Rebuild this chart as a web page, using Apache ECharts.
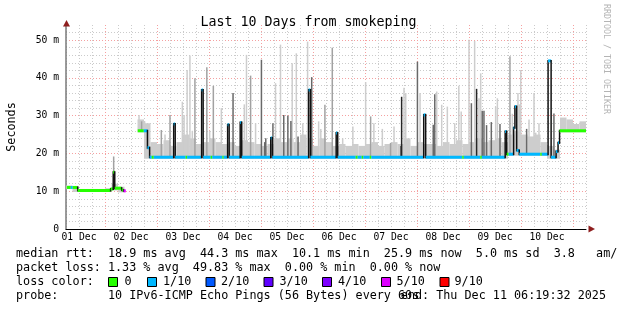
<!DOCTYPE html>
<html><head><meta charset="utf-8">
<script src="https://cdn.jsdelivr.net/npm/echarts@6/dist/echarts.min.js"></script>
<style>html,body{margin:0;padding:0;background:#fff}#c{width:617px;height:310px}</style>
</head><body><div id="c"></div>
<script>
// ---------- data ----------
const xTickLabels = ['01 Dec','02 Dec','03 Dec','04 Dec','05 Dec','06 Dec','07 Dec','08 Dec','09 Dec','10 Dec'];
const yTickLabels = ['0','10 m','20 m','30 m','40 m','50 m'];
const lossLevels = [0,1,2,3,4,5,9];
const lossNames  = ['0','1/10','2/10','3/10','4/10','5/10','9/10'];
const lossColors = ['#26ff00','#00b8ff','#0059ff','#5e00ff','#7e00ff','#dd00ff','#ff0000'];
const endHour = 246.33; // hours since 01 Dec 00:00

// median rtt steps (start hour, ms, loss in tenths); null = no data
const medHour = [6.33,8.2,9.1,11.4,26.6,27.8,28.5,31.7,32.6,33.6,39.1,41.9,43.6,44.6,45.6,46.5,55.7,56.4,61.2,61.9,
  68.6,69.3,72.8,73.5,78.2,78.8,80.6,81.3,86.4,87.1,100.5,101.2,118.0,118.8,130.7,131.4,139.7,140.6,142.5,143.2,
  146.2,146.9,171.1,172.0,188.9,189.6,197.2,197.9,208.7,209.4,210.3,212.6,213.2,214.0,215.2,224.9,225.6,228.5,229.9,232.2,
  233.1,233.8];
const medMs = [11.0,11.0,11.0,10.2,10.6,15.0,10.8,10.3,10.1,null,26.0,26.0,21.5,19.0,19.0,19.0,27.8,19.0,19.0,19.0,
  36.8,19.0,19.0,19.0,19.0,19.0,27.6,19.0,28.2,19.0,24.1,19.0,36.8,19.0,25.4,19.0,19.0,19.0,19.0,19.0,
  19.0,19.0,30.2,19.0,19.0,19.0,19.0,19.0,25.8,19.8,19.8,26.8,32.4,20.8,19.8,19.8,19.8,44.5,19.0,20.5,
  22.8,26.0];
const medLoss = [0,1,0,0,0,0,0,0,5,0,0,1,1,1,0,1,1,1,0,1,
  1,1,0,1,0,1,1,1,1,1,1,1,1,1,1,1,0,1,0,1,
  0,1,1,1,0,1,0,1,1,0,1,1,1,1,1,0,1,1,1,1,
  1,0];

// smoke band top per 3-hour bin starting 01 Dec 06:00
const bandStartHour = 6, bandStepHours = 3;
const bandTop = [11.5,11.3,10.6,10.6,10.6,10.6,10.8,12,11.2,null,null,29,28,23,22.5,23.5,22,23,25,24,
  22.5,23,24,23,22.5,23,22,23.5,23,22.5,22,22.5,24,23,24,23,25,24,22,24,
  23,22,22.5,22,22.5,22,22.5,23,22,22.5,23,22.5,24,22,23,22.5,22.5,22,23,22.5,
  23.5,22.5,23,24,23,23.5,24,23,25,26,25,24.5,25,23,22,21,29.5,29,27.8,28.5];

// individual smoke spikes (hour, top ms, shade 0 light .. 3 black)
const spikeHour = [28.0,39.7,40.9,42.3,50.0,51.7,54.0,59.7,60.5,61.9,63.2,64.3,65.5,71.0,72.3,74.0,77.7,83.1,88.3,89.3,
  91.2,93.5,96.2,97.7,98.2,101.5,102.7,105.0,106.5,108.4,109.8,110.4,112.3,113.1,115.3,117.5,119.4,122.6,123.6,125.5,
  128.9,133.7,138.4,144.3,146.6,148.1,152.0,155.8,157.4,160.5,160.9,162.0,162.8,168.2,169.4,175.5,176.2,177.1,179.4,182.0,
  185.4,187.3,188.4,192.0,193.1,194.6,195.5,196.6,197.4,198.1,198.9,200.1,202.3,204.3,205.1,206.3,210.9,212.0,214.6,215.2,
  215.9,218.6,219.7,222.0,222.8,224.3,231.2];
const spikeTop = [19.2,30.2,28.5,28.5,26.2,25,30.2,33.7,30.2,42.1,45.9,26.0,39.9,42.8,26.0,37.9,32.0,36.0,33,46.1,
  40.6,28,44.8,23,24.0,28.0,38.6,48.8,30.2,30.0,28.6,43.9,46.5,24.5,28.0,49.6,40.2,28.5,26.5,32.9,
  48.0,24,27.1,38.9,29.8,28.0,26.5,22.8,27.1,22,35.0,37.4,36.0,44.3,36.0,27.6,35.7,36.4,32.9,32.4,
  28.0,37.9,31.1,50.1,33.3,49.8,37.1,34.6,41.2,31.3,31.3,27.5,28.3,32.4,34.6,27.8,45.7,30.5,36.0,33,
  42.1,26.5,29,36.0,25.5,28,30.6];
const spikeShade = [1,0,1,0,1,0,1,0,0,0,0,0,1,1,0,1,0,2,0,0,
  1,0,2,2,2,2,0,0,2,2,2,0,0,2,0,0,2,0,0,1,
  1,0,0,0,1,0,0,1,0,2,3,0,0,2,0,2,2,0,0,0,
  0,0,0,0,2,0,3,0,0,2,2,2,2,0,0,2,1,0,0,0,
  0,2,0,0,0,0,2];
const shadeColors = ['#cdcdcd','#a2a2a2','#696969','#262626'];

const legendLines = [
  'median rtt:  18.9 ms avg  44.3 ms max  10.1 ms min  25.9 ms now  5.0 ms sd  3.8   am/s',
  'packet loss: 1.33 % avg  49.83 % max  0.00 % min  0.00 % now',
  'loss color:',
  'probe:       10 IPv6-ICMP Echo Pings (56 Bytes) every 60s'
];
const endText = 'end: Thu Dec 11 06:19:32 2025';
const titleText = 'Last 10 Days from smokeping';

// ---------- build ----------
const MONO = '"DejaVu Sans Mono", monospace';
const segs = [];
for (let i = 0; i < medHour.length; i++) {
  if (medMs[i] == null) continue;
  segs.push({h0: medHour[i], h1: i + 1 < medHour.length ? medHour[i + 1] : endHour,
    v: medMs[i], loss: medLoss[i], pv: i > 0 ? medMs[i - 1] : null});
}
function medianAt(h) {
  for (const s of segs) if (h >= s.h0 && h < s.h1) return s.v;
  return null;
}
function medianMin(a, b) {
  let m = null;
  for (const s of segs) if (s.h1 > a && s.h0 < b) m = m == null ? s.v : Math.min(m, s.v);
  return m;
}
function lossColor(l) { return lossColors[lossLevels.indexOf(l)]; }

const bandItems = [];
bandTop.forEach((t, i) => {
  if (t == null) return;
  const a = bandStartHour + i * bandStepHours, b = a + bandStepHours;
  const lo = medianMin(a, b);
  if (lo == null) return;
  bandItems.push([a, b, lo - 0.4, t]);
});
const spikeItems = spikeHour.map((h, i) => [h, medianAt(h), spikeTop[i], spikeShade[i]])
  .filter(d => d[1] != null).sort((p, q) => p[3] - q[3]);
const medItems = segs.map((s, i) => [s.h0, s.v, i]);

const chart = echarts.init(document.getElementById('c'), null, {renderer: 'canvas'});

const gridGray = '#cbcbcb', gridRed = '#f5a0a0';
const graphics = [];
legendLines.forEach((t, i) => {
  graphics.push({type: 'text', x: 16, y: 254 + i * 14, silent: true,
    style: {text: t, font: '11.75px ' + MONO, fill: '#000', textVerticalAlign: 'middle'}});
});
graphics.push({type: 'text', x: 606, y: 296, silent: true,
  style: {text: endText, font: '11.75px ' + MONO, fill: '#000', textAlign: 'right', textVerticalAlign: 'middle'}});
const boxX = [108, 147, 205.5, 263.5, 322, 381, 439.5];
const labX = [124.5, 163, 221, 279.5, 338, 396.5, 454.5];
lossNames.forEach((n, i) => {
  graphics.push({type: 'rect', silent: true, shape: {x: boxX[i] + 0.5, y: 277.5, width: 9, height: 9},
    style: {fill: lossColors[i], stroke: '#000', lineWidth: 1}});
  graphics.push({type: 'text', x: labX[i], y: 282, silent: true,
    style: {text: n, font: '11.75px ' + MONO, fill: '#000', textVerticalAlign: 'middle'}});
});
graphics.push({type: 'text', x: 606.5, y: 59, rotation: -Math.PI / 2, silent: true,
  style: {text: 'RRDTOOL / TOBI OETIKER', font: '8.3px ' + MONO, fill: '#b4b4b4', textAlign: 'center', textVerticalAlign: 'middle'}});
graphics.push({type: 'polygon', silent: true, shape: {points: [[66.5, 20], [63, 26.5], [70, 26.5]]}, style: {fill: '#8e1e1e'}, z: 100});
graphics.push({type: 'polygon', silent: true, shape: {points: [[595, 229], [588.5, 225.5], [588.5, 232.5]]}, style: {fill: '#8e1e1e'}, z: 100});

chart.setOption({
  animation: false,
  backgroundColor: '#fff',
  title: {text: titleText, left: 'center', top: 11,
    textStyle: {fontFamily: MONO, fontSize: 13.3, fontWeight: 'normal', color: '#000'}},
  grid: {left: 66, right: 31, top: 25, bottom: 81, containLabel: false, outerBoundsMode: 'none'},
  xAxis: {
    type: 'value', min: 6, max: 246, interval: 6,
    axisLine: {show: true, lineStyle: {color: '#000', width: 1}},
    axisTick: {show: false},
    axisLabel: {margin: 3, fontFamily: MONO, fontSize: 9.7, color: '#000',
      formatter: v => (v % 24 === 12 ? xTickLabels[(v - 12) / 24] || '' : '')},
    splitLine: {show: true, showMaxLine: true,
      lineStyle: {color: [gridGray, gridGray, gridGray, gridRed], type: [1, 2], width: 1}}
  },
  yAxis: {
    type: 'value', min: 0, max: 54, interval: 2,
    name: 'Seconds', nameLocation: 'middle', nameGap: 48, nameRotate: 90,
    nameTextStyle: {fontFamily: MONO, fontSize: 11.75, color: '#000'},
    axisLine: {show: true, lineStyle: {color: '#7a7a7a', width: 1.5}},
    axisTick: {show: false},
    axisLabel: {margin: 7, fontFamily: MONO, fontSize: 9.7, color: '#000',
      formatter: v => (v % 10 === 0 ? yTickLabels[v / 10] || '' : '')},
    splitLine: {show: true, showMaxLine: false,
      lineStyle: {color: [gridRed, gridGray, gridGray, gridGray, gridGray], type: [1, 2], width: 1}}
  },
  graphic: graphics,
  series: [
    {
      type: 'custom', name: 'smoke', clip: true, silent: true,
      encode: {x: 0, y: 3},
      data: bandItems,
      renderItem: (params, api) => {
        const p0 = api.coord([api.value(0), api.value(3)]);
        const p1 = api.coord([api.value(1), api.value(2)]);
        return {type: 'rect', shape: {x: p0[0], y: p0[1], width: p1[0] - p0[0], height: p1[1] - p0[1]},
          style: {fill: shadeColors[0]}};
      }
    },
    {
      type: 'custom', name: 'spikes', clip: true, silent: true,
      encode: {x: 0, y: 2},
      data: spikeItems,
      renderItem: (params, api) => {
        const lo = api.coord([api.value(0), api.value(1)]);
        const hi = api.coord([api.value(0), api.value(2)]);
        return {type: 'rect', shape: {x: lo[0] - 0.75, y: hi[1], width: 1.5, height: lo[1] - hi[1]},
          style: {fill: shadeColors[api.value(3)]}};
      }
    },
    {
      type: 'custom', name: 'median', clip: true, silent: true,
      encode: {x: 0, y: 1},
      data: medItems,
      renderItem: (params, api) => {
        const s = segs[api.value(2)];
        const p0 = api.coord([s.h0, s.v]);
        const p1 = api.coord([s.h1, s.v]);
        const children = [];
        if (s.pv != null && s.pv !== s.v) {
          const q = api.coord([s.h0, s.pv]);
          children.push({type: 'rect', shape: {x: p0[0] - 0.75, y: Math.min(q[1], p0[1]) - 1,
            width: 1.5, height: Math.abs(q[1] - p0[1]) + 2}, style: {fill: '#111'}});
        }
        children.push({type: 'rect', shape: {x: p0[0], y: p0[1] - 1.5, width: p1[0] - p0[0], height: 3},
          style: {fill: lossColor(s.loss)}});
        return {type: 'group', children};
      }
    }
  ]
});
</script>
</body></html>
